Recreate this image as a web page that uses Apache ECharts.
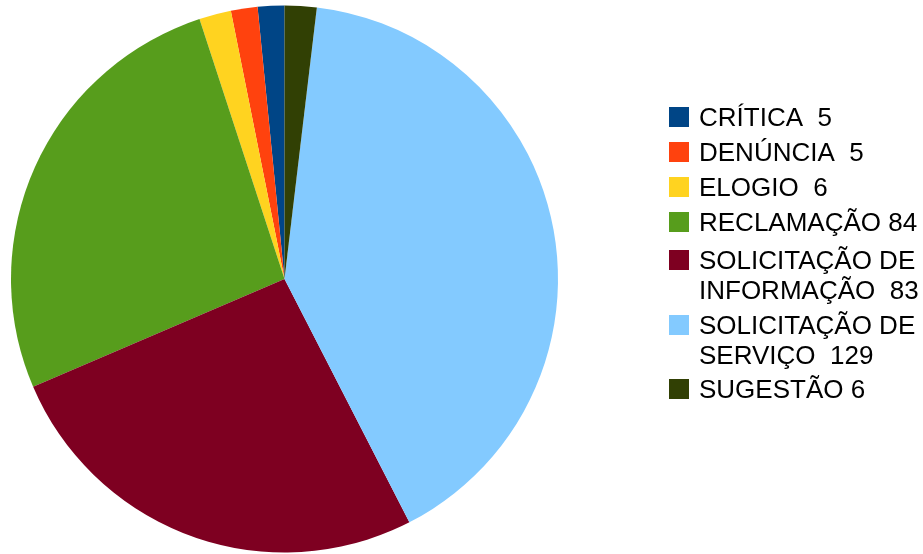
<!DOCTYPE html>
<html>
<head>
<meta charset="utf-8">
<title>Manifestações por tipo</title>
<script src="https://cdn.jsdelivr.net/npm/echarts@6/dist/echarts.min.js"></script>
<style>
  html, body { margin: 0; padding: 0; background: #ffffff; }
  #chart { width: 923px; height: 554px; }
</style>
</head>
<body>
<div id="chart"></div>
<script>
// Manifestation types and their counts
const categories = ['CRÍTICA', 'DENÚNCIA', 'ELOGIO', 'RECLAMAÇÃO',
  'SOLICITAÇÃO DE INFORMAÇÃO', 'SOLICITAÇÃO DE SERVIÇO', 'SUGESTÃO'];
const counts = [5, 5, 6, 84, 83, 129, 6];
// separator between name and count in each legend entry
const labelSeparators = ['  ', '  ', '  ', ' ', '  ', '  ', ' '];

// Slice / legend colours
const palette = ['#004586', '#ff420e', '#ffd320', '#579d1c', '#7e0021', '#83caff', '#314004'];

// Legend layout: vertical centre of each legend square, in pixels
const legendIconCenters = [117, 152, 187, 222, 260, 325, 389];
const LINE_H = 30;      // legend text line height
const PAD_TOP = 3;      // nudges text slightly below the square centre
const MAX_CHARS = 14;   // wrap width of legend names

function wrapName(name) {
  const words = name.split(' ');
  const lines = [];
  let cur = '';
  words.forEach(w => {
    const next = cur ? cur + ' ' + w : w;
    if (next.length > MAX_CHARS && cur) { lines.push(cur); cur = w; }
    else cur = next;
  });
  if (cur) lines.push(cur);
  return lines;
}

const legendLines = categories.map((name, i) => {
  const lines = wrapName(name);
  lines[lines.length - 1] += labelSeparators[i] + counts[i];
  return lines;
});

// One legend per entry so that wrapped entries keep their first line level
// with the colour square. The transparent text box gives each entry a
// predictable height (lines * LINE_H + top padding), centred on the square.
const legends = categories.map((name, i) => {
  const lines = legendLines[i];
  const padTop = PAD_TOP + (lines.length - 1) * LINE_H;
  const outerH = lines.length * LINE_H + padTop;
  return {
    data: [name],
    orient: 'vertical',
    left: 669,
    top: legendIconCenters[i] - outerH / 2,
    padding: 0,
    itemWidth: 20,
    itemHeight: 20,
    icon: 'rect',
    selectedMode: false,
    formatter: () => lines.map(l => '{t|' + l + '}').join('\n'),
    textStyle: {
      padding: [padTop, 0, 0, 5],
      backgroundColor: 'rgba(255,255,255,0)',
      rich: {
        t: {
          fontFamily: 'Liberation Sans',
          fontSize: 26,
          lineHeight: LINE_H,
          color: '#000000'
        }
      }
    }
  };
});

const chart = echarts.init(document.getElementById('chart'), null, { renderer: 'canvas' });
chart.setOption({
  backgroundColor: '#ffffff',
  animation: false,
  color: palette,
  legend: legends,
  series: [{
    type: 'pie',
    center: [284.5, 279],
    radius: 273.5,
    startAngle: 90,
    clockwise: false,
    avoidLabelOverlap: false,
    label: { show: false },
    labelLine: { show: false },
    emphasis: { disabled: true },
    itemStyle: { borderWidth: 0 },
    data: categories.map((name, i) => ({ name: name, value: counts[i] }))
  }]
});
</script>
</body>
</html>
